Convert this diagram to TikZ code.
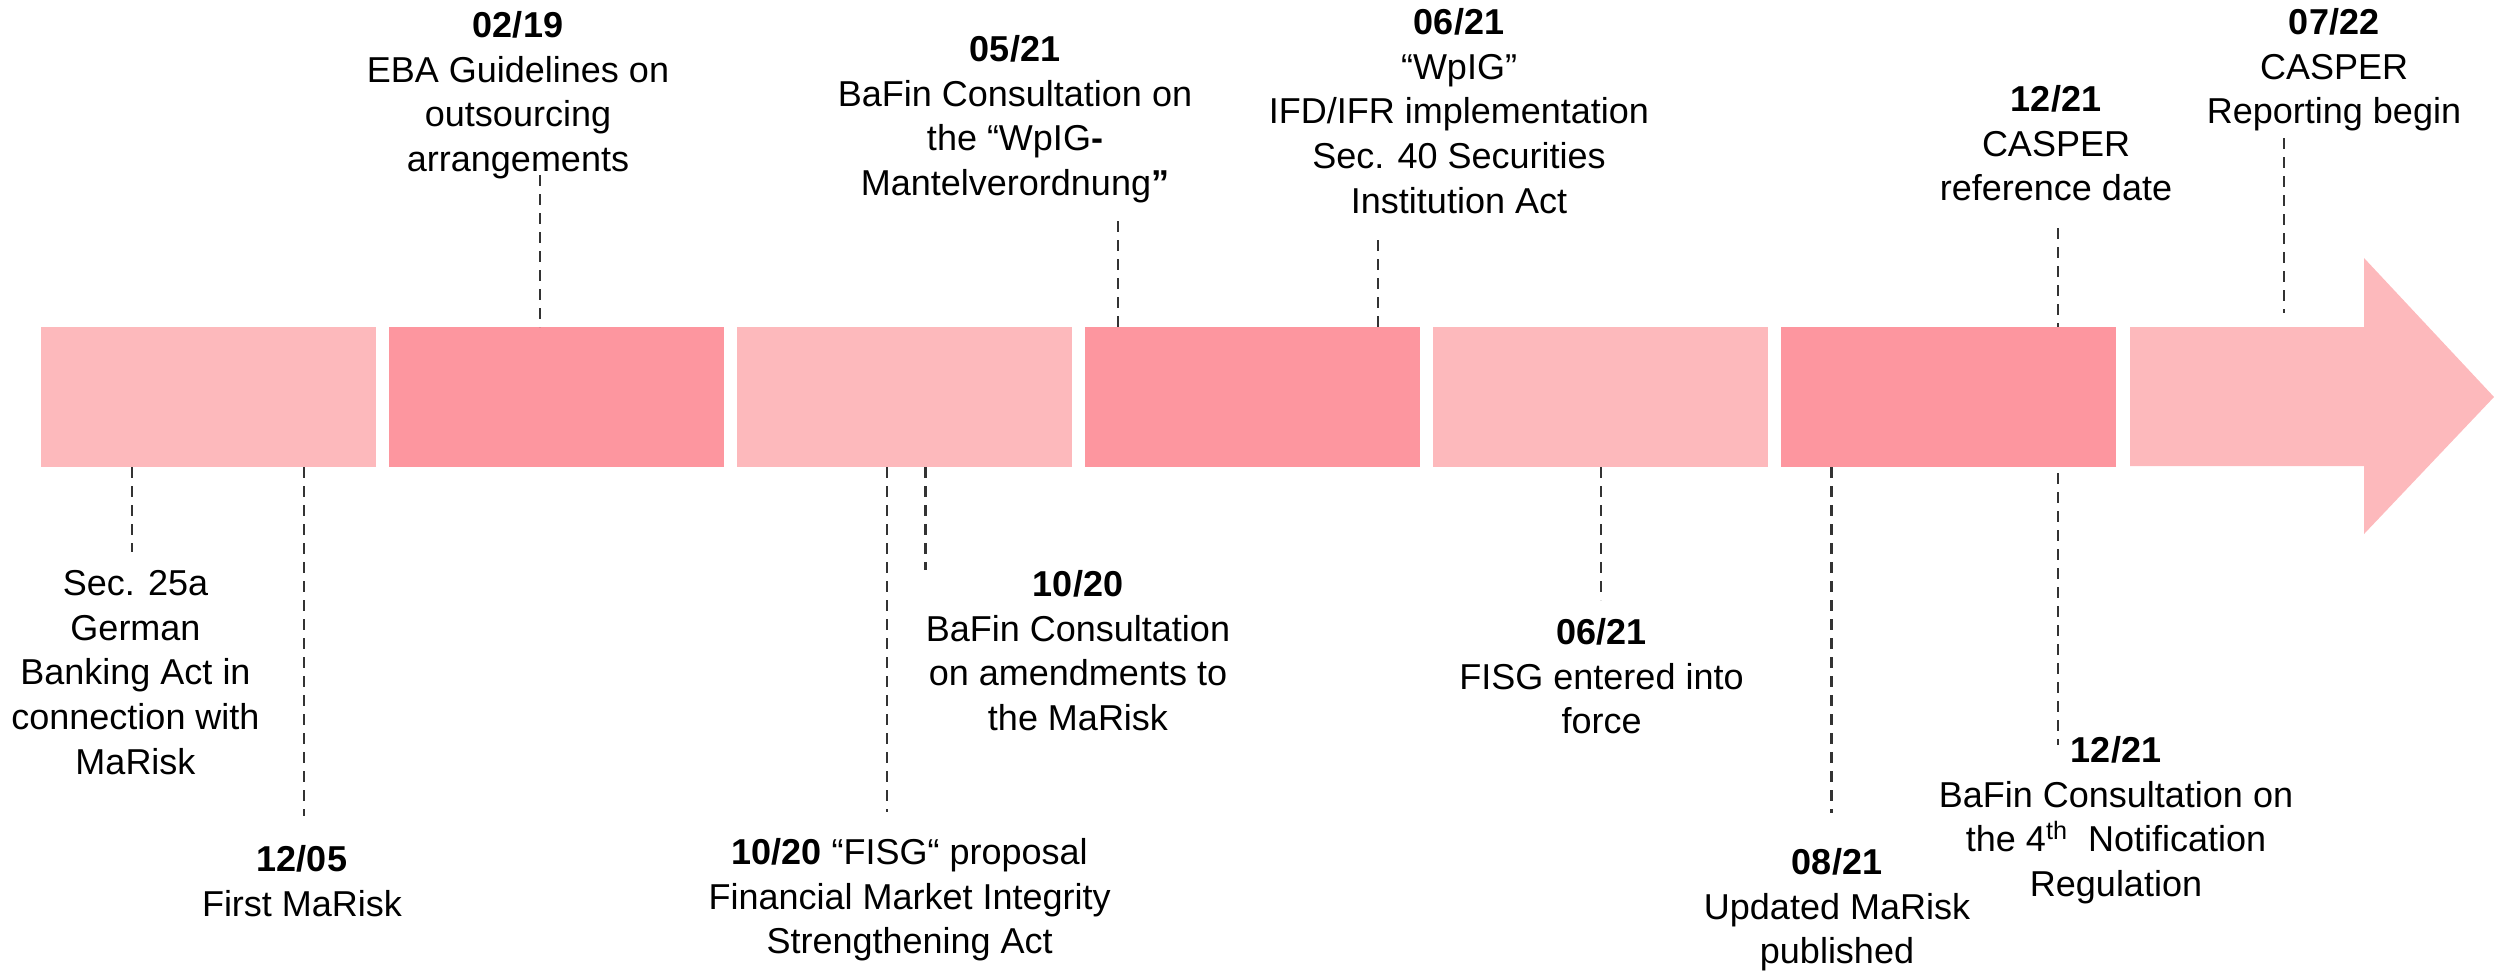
\documentclass[tikz,border=0pt]{standalone}
\usepackage{fontspec}
\setmainfont{Liberation Sans}
\definecolor{lightpink}{RGB}{253,185,188}
\definecolor{darkpink}{RGB}{253,150,159}
\definecolor{dashgray}{RGB}{51,51,51}
\begin{document}
\begin{tikzpicture}[x=0.5pt,y=-0.5pt,
  seg/.style={draw=none, minimum width=167.5pt, minimum height=70pt, inner sep=0pt, outer sep=0pt, anchor=north west},
  lbl/.style={align=center, anchor=north, inner sep=0pt, font=\fontsize{18}{22.35}\selectfont},
  tick/.style={draw=dashgray, line width=1.25pt, dash pattern=on 5.5pt off 4pt}]
\useasboundingbox (0,0) rectangle (2494,970);
% bar segments
\node[seg, fill=lightpink] (b1) at (41,327) {};
\node[seg, fill=darkpink]  (b2) at (389,327) {};
\node[seg, fill=lightpink] (b3) at (737,327) {};
\node[seg, fill=darkpink]  (b4) at (1085,327) {};
\node[seg, fill=lightpink] (b5) at (1433,327) {};
\node[seg, fill=darkpink]  (b6) at (1781,327) {};
\fill[lightpink] (2130,327) -- (2364,327) -- (2364,258) -- (2494,397) -- (2364,534) -- (2364,466) -- (2130,466) -- cycle;
\coordinate (b7) at (2247,327);
% labels above
\node[lbl] (l1) at (518,5.7) {\textbf{02/19}\strut\\EBA Guidelines on\\outsourcing\\arrangements};
\node[lbl] (l2) at (1015,29.7) {\textbf{05/21}\strut\\BaFin Consultation on\\the “WpIG\textbf{-}\\Mantelverordnung\textbf{”}};
\node[lbl] (l3) at (1459,2.7) {\textbf{06/21}\strut\\“WpIG”\\IFD/IFR implementation\\Sec. 40 Securities\\Institution Act};
\node[lbl] (l4) at (2056,79.7) {\textbf{12/21}\strut\\CASPER\\reference date};
\node[lbl] (l5) at (2334,2.7) {\textbf{07/22}\strut\\CASPER\\Reporting begin};
% labels below
\node[lbl] (l6) at (135.5,563.7) {Sec. 25a\strut\\German\\Banking Act in\\connection with\\MaRisk};
\node[lbl] (l7) at (302,839.7) {\textbf{12/05}\strut\\First MaRisk};
\node[lbl] (l8) at (1078,564.7) {\textbf{10/20}\strut\\BaFin Consultation\\on amendments to\\the MaRisk};
\node[lbl] (l9) at (909.6,832.7) {\textbf{10/20} “FISG“ proposal\strut\\Financial Market Integrity\\Strengthening Act};
\node[lbl] (l10) at (1601.5,612.7) {\textbf{06/21}\strut\\FISG entered into\\force};
\node[lbl] (l11) at (1837,842.7) {\textbf{08/21}\strut\\Updated MaRisk\\published};
\node[lbl] (l12) at (2116,730.7) {\textbf{12/21}\strut\\BaFin Consultation on\\the 4\textsuperscript{th}\ \ Notification\\Regulation};
% dashed connectors
\coordinate (c1) at (540,175);
\coordinate (c2) at (1118,221);
\coordinate (c3) at (1378,240);
\coordinate (c4) at (2058,228);
\coordinate (c5) at (2284,138);
\coordinate (c5e) at (2284,313);
\coordinate (c6) at (132,552);
\coordinate (c7) at (304,816);
\coordinate (c8) at (887,812);
\coordinate (c9) at (925.5,570);
\coordinate (c10) at (1601,600);
\coordinate (c11) at (1831.5,813);
\coordinate (c12) at (2058,745);
\coordinate (c12s) at (2058,473);
\draw[tick] (c1) -- (c1 |- b2.north);
\draw[tick] (c2) -- (c2 |- b4.north);
\draw[tick] (c3) -- (c3 |- b4.north);
\draw[tick] (c4) -- (c4 |- b6.north);
\draw[tick] (c5) -- (c5e);
\draw[tick] (b1.south -| c6) -- (c6);
\draw[tick] (b1.south -| c7) -- (c7);
\draw[tick] (b3.south -| c8) -- (c8);
\draw[tick] (b3.south -| c9) -- (c9);
\draw[tick] (b5.south -| c10) -- (c10);
\draw[tick] (b6.south -| c11) -- (c11);
\draw[tick] (c12s) -- (c12);
\end{tikzpicture}
\end{document}
